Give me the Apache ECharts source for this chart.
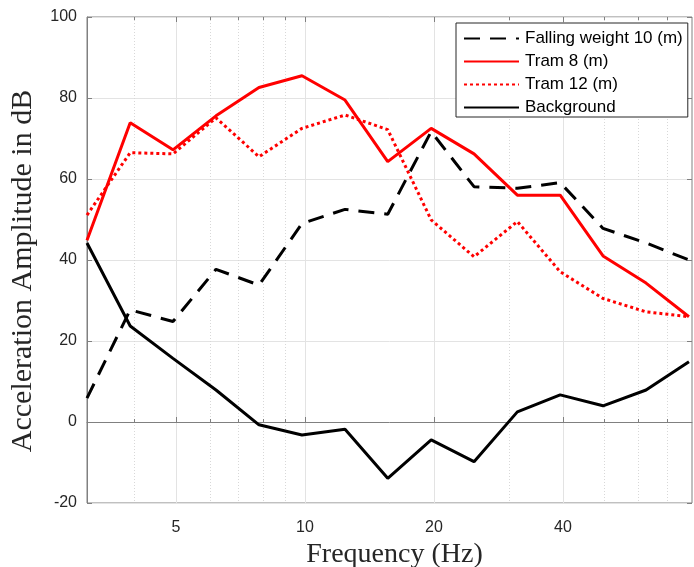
<!DOCTYPE html>
<html>
<head>
<meta charset="utf-8">
<script src="https://cdn.jsdelivr.net/npm/echarts@6/dist/echarts.min.js"></script>
<style>
html,body{margin:0;padding:0;background:#fff;}
#chart{width:694px;height:567px;}
</style>
</head>
<body>
<div id="chart"></div>
<script>
// Third-octave band centre frequencies (Hz)
const freqs = [3.10, 3.91, 4.92, 6.20, 7.81, 9.84, 12.4, 15.6, 19.7, 24.8, 31.3, 39.4, 49.6, 62.5, 78.7];
// Series values (dB)
const fallingWeight10 = [5.9, 27.7, 24.8, 37.7, 33.8, 49.0, 52.5, 51.3, 71.7, 58.1, 57.7, 59.1, 47.8, 44.2, 40.0];
const tram8 = [44.9, 73.9, 67.2, 75.6, 82.6, 85.5, 79.5, 64.3, 72.5, 66.2, 56.0, 56.0, 41.0, 34.3, 26.0];
const tram12 = [51.1, 66.5, 66.2, 75.1, 65.5, 72.5, 75.8, 72.2, 49.9, 40.8, 49.5, 37.1, 30.5, 27.2, 26.0];
const background = [44.2, 23.7, 15.7, 7.9, -0.7, -3.2, -1.8, -13.9, -4.4, -9.8, 2.5, 6.7, 4.0, 7.9, 14.9];
// Axis ticks
const xMajorTicks = [5, 10, 20, 40];
const xMinorTicks = [4, 6, 7, 8, 9, 30, 50, 60, 70];
const yTicks = [-20, 0, 20, 40, 60, 80, 100];
const seriesNames = ['Falling weight 10 (m)', 'Tram 8 (m)', 'Tram 12 (m)', 'Background'];

const pair = arr => arr.map((v, i) => [freqs[i], v]);
const xMin = 3.1, xMax = 80;
const axisGray = '#808080';
const txt = '#262626';

const chart = echarts.init(document.getElementById('chart'));
chart.setOption({
  animation: false,
  backgroundColor: '#fff',
  grid: { left: 87, top: 17, width: 605, height: 486, show: true, borderColor: axisGray, borderWidth: 1, backgroundColor: '#fff', outerBoundsMode: 'none', containLabel: false },
  legend: {
    orient: 'vertical', left: 456, top: 23,
    padding: [7, 5, 1, 7], itemGap: 6, itemWidth: 55, itemHeight: 14,
    backgroundColor: '#fff', borderColor: txt, borderWidth: 1, borderRadius: 0,
    itemStyle: { opacity: 0 },
    textStyle: { fontFamily: 'Liberation Sans', fontSize: 17, lineHeight: 17, color: '#000', padding: [0, 0, 0, 1] },
    data: seriesNames
  },
  xAxis: [
    {
      type: 'log', logBase: 2, min: xMin, max: xMax, position: 'bottom',
      name: 'Frequency (Hz)', nameLocation: 'middle', nameGap: 36,
      nameTextStyle: { fontFamily: 'Liberation Serif', fontSize: 28, color: txt, padding: [0, 0, 0, 10] },
      axisLine: { show: true, lineStyle: { color: axisGray } },
      axisTick: { show: true, inside: true, length: 5, lineStyle: { color: axisGray }, customValues: xMajorTicks },
      axisLabel: { customValues: xMajorTicks, fontFamily: 'Liberation Sans', fontSize: 16, color: txt, margin: 17 },
      splitLine: { show: true, lineStyle: { color: '#e3e3e3', width: 1 } },
      minorTick: { show: false }, minorSplitLine: { show: false }
    },
    {
      type: 'log', logBase: 2, min: xMin, max: xMax, position: 'bottom',
      axisLine: { show: false },
      axisTick: { show: true, inside: true, length: 3, lineStyle: { color: axisGray }, customValues: xMinorTicks },
      axisLabel: { show: false },
      splitLine: { show: true, lineStyle: { color: '#d8d8d8', width: 1, type: [1, 2] } }
    },
    {
      type: 'log', logBase: 2, min: xMin, max: xMax, position: 'top',
      axisLine: { show: false },
      axisTick: { show: true, inside: true, length: 5, lineStyle: { color: axisGray }, customValues: xMajorTicks },
      axisLabel: { show: false }, splitLine: { show: false }
    },
    {
      type: 'log', logBase: 2, min: xMin, max: xMax, position: 'top',
      axisLine: { show: false },
      axisTick: { show: true, inside: true, length: 3, lineStyle: { color: axisGray }, customValues: xMinorTicks },
      axisLabel: { show: false }, splitLine: { show: false }
    }
  ],
  yAxis: [
    {
      type: 'value', min: yTicks[0], max: yTicks[yTicks.length - 1], interval: 20, position: 'left',
      name: 'Acceleration Amplitude in dB', nameLocation: 'middle', nameGap: 49,
      nameTextStyle: { fontFamily: 'Liberation Serif', fontSize: 30, color: txt, padding: [0, 22, 0, 0] },
      axisLine: { show: true, lineStyle: { color: axisGray } },
      axisTick: { show: true, inside: true, length: 5, lineStyle: { color: axisGray } },
      axisLabel: { fontFamily: 'Liberation Sans', fontSize: 16, color: txt, margin: 10 },
      splitLine: { show: true, lineStyle: { color: '#e3e3e3', width: 1 } }
    },
    {
      type: 'value', min: yTicks[0], max: yTicks[yTicks.length - 1], interval: 20, position: 'right',
      axisLine: { show: false },
      axisTick: { show: true, inside: true, length: 5, lineStyle: { color: axisGray } },
      axisLabel: { show: false }, splitLine: { show: false }
    }
  ],
  series: [
    { name: seriesNames[0], type: 'line', data: pair(fallingWeight10), symbol: 'none', z: 3,
      lineStyle: { color: '#000', width: 3, type: [16, 10], cap: 'butt' }, itemStyle: { color: '#000' } },
    { name: seriesNames[1], type: 'line', data: pair(tram8), symbol: 'none', z: 4,
      lineStyle: { color: '#ff0000', width: 3, type: 'solid' }, itemStyle: { color: '#ff0000' } },
    { name: seriesNames[2], type: 'line', data: pair(tram12), symbol: 'none', z: 3,
      lineStyle: { color: '#ff0000', width: 3, type: [3, 3], cap: 'butt' }, itemStyle: { color: '#ff0000' } },
    { name: seriesNames[3], type: 'line', data: pair(background), symbol: 'none', z: 4,
      lineStyle: { color: '#000', width: 3, type: 'solid' }, itemStyle: { color: '#000' } }
  ]
});
</script>
</body>
</html>
